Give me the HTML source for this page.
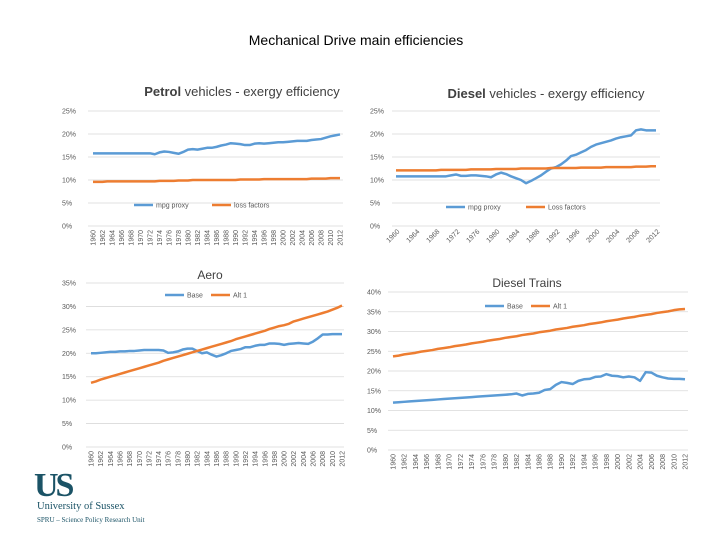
<!DOCTYPE html>
<html><head><meta charset="utf-8"><style>
body{margin:0;background:#fff;font-family:"Liberation Sans",sans-serif;}
svg text{font-family:"Liberation Sans",sans-serif;fill:#595959;}
</style></head><body>
<svg id="s" width="720" height="540" viewBox="0 0 720 540" xmlns="http://www.w3.org/2000/svg">
<text x="356" y="45" text-anchor="middle" font-size="14" style="fill:#000">Mechanical Drive main efficiencies</text>
<g>
<text x="34" y="496" font-size="34" style="fill:#1b5366;font-family:'Liberation Serif',serif;font-weight:bold;letter-spacing:-3px">US</text>
<text x="37" y="509" font-size="10.5" style="fill:#1b5366;font-family:'Liberation Serif',serif">University of Sussex</text>
<text x="37" y="522" font-size="7" style="fill:#1b5366;font-family:'Liberation Serif',serif">SPRU – Science Policy Research Unit</text>
</g>
</svg>
<script>
const years=[];for(let y=1960;y<=2012;y++)years.push(y);
const petrolMpg=[15.8,15.8,15.8,15.8,15.8,15.8,15.8,15.8,15.8,15.8,15.8,15.8,15.8,15.6,16.0,16.2,16.1,15.9,15.7,16.1,16.6,16.7,16.6,16.8,17.0,17.0,17.2,17.5,17.7,18.0,17.9,17.8,17.6,17.6,17.9,18.0,17.9,18.0,18.1,18.2,18.2,18.3,18.4,18.5,18.5,18.5,18.7,18.8,18.9,19.2,19.5,19.7,19.9];
const petrolLoss=[9.6,9.6,9.6,9.7,9.7,9.7,9.7,9.7,9.7,9.7,9.7,9.7,9.7,9.7,9.8,9.8,9.8,9.8,9.9,9.9,9.9,10.0,10.0,10.0,10.0,10.0,10.0,10.0,10.0,10.0,10.0,10.1,10.1,10.1,10.1,10.1,10.2,10.2,10.2,10.2,10.2,10.2,10.2,10.2,10.2,10.2,10.3,10.3,10.3,10.3,10.4,10.4,10.4];
const dieselMpg=[10.8,10.8,10.8,10.8,10.8,10.8,10.8,10.8,10.8,10.8,10.8,11.0,11.2,10.9,10.9,11.0,11.0,10.9,10.8,10.6,11.2,11.6,11.3,10.8,10.4,10.0,9.3,9.8,10.4,11.0,11.8,12.5,12.8,13.4,14.2,15.2,15.5,16.0,16.5,17.2,17.7,18.0,18.3,18.6,19.0,19.3,19.5,19.7,20.8,21.0,20.8,20.8,20.8];
const dieselLoss=[12.1,12.1,12.1,12.1,12.1,12.1,12.1,12.1,12.1,12.2,12.2,12.2,12.2,12.2,12.2,12.3,12.3,12.3,12.3,12.3,12.4,12.4,12.4,12.4,12.4,12.5,12.5,12.5,12.5,12.5,12.5,12.6,12.6,12.6,12.6,12.6,12.6,12.7,12.7,12.7,12.7,12.7,12.8,12.8,12.8,12.8,12.8,12.8,12.9,12.9,12.9,13.0,13.0];
const aeroBase=[20.0,20.0,20.1,20.2,20.3,20.3,20.4,20.4,20.5,20.5,20.6,20.7,20.7,20.7,20.7,20.6,20.1,20.2,20.4,20.8,21.0,21.0,20.5,20.0,20.2,19.7,19.3,19.6,20.0,20.5,20.7,20.9,21.3,21.3,21.6,21.8,21.8,22.1,22.1,22.0,21.8,22.0,22.1,22.2,22.1,22.0,22.5,23.2,24.0,24.0,24.1,24.1,24.1];
const aeroAlt1=[13.7,14.0,14.4,14.7,15.0,15.3,15.6,15.9,16.2,16.5,16.8,17.1,17.4,17.7,18.0,18.4,18.7,19.0,19.3,19.6,19.9,20.2,20.5,20.8,21.1,21.4,21.7,22.0,22.3,22.6,23.0,23.3,23.6,23.9,24.2,24.5,24.8,25.2,25.5,25.8,26.0,26.3,26.8,27.1,27.4,27.7,28.0,28.3,28.6,28.9,29.3,29.7,30.2];
const trainBase=[12.0,12.1,12.2,12.3,12.4,12.5,12.6,12.7,12.8,12.9,13.0,13.1,13.2,13.3,13.4,13.5,13.6,13.7,13.8,13.9,14.0,14.1,14.3,13.8,14.2,14.3,14.5,15.2,15.4,16.5,17.2,17.0,16.7,17.5,17.9,18.0,18.5,18.6,19.2,18.8,18.7,18.4,18.6,18.4,17.5,19.7,19.6,18.8,18.4,18.1,18.0,18.0,17.9];
const trainAlt1=[23.7,23.9,24.2,24.4,24.6,24.9,25.1,25.3,25.6,25.8,26.0,26.3,26.5,26.7,27.0,27.2,27.4,27.7,27.9,28.1,28.4,28.6,28.8,29.1,29.3,29.5,29.8,30.0,30.2,30.5,30.7,30.9,31.2,31.4,31.6,31.9,32.1,32.3,32.6,32.8,33.0,33.3,33.5,33.7,34.0,34.2,34.4,34.7,34.9,35.1,35.4,35.6,35.7];
const petrolTicks=[0,5,10,15,20,25],aeroTicks=[0,5,10,15,20,25,30,35],trainTicks=[0,5,10,15,20,25,30,35,40];
const NS="http://www.w3.org/2000/svg";const svg=document.getElementById('s');
function mk(t,a,p){const e=document.createElementNS(NS,t);for(const k in a)e.setAttribute(k,a[k]);(p||svg).appendChild(e);return e;}
function chart(c){
 const g=mk('g',{});
 
 
 const ys=v=>c.y0-(v/c.max)*(c.y0-c.y1);
 const xs=i=>c.x0+i*(c.x1-c.x0)/(years.length-1);
 c.ticks.forEach(t=>{
  const l=mk('line',{x1:c.gx0,x2:c.gx1,y1:ys(t),y2:ys(t),stroke:'#d9d9d9','stroke-width':0.8},g);
  
  
  const tx=mk('text',{x:c.lx,y:ys(t)+2.5,'font-size':7},g);tx.textContent=t+'%';
  
  
 });
 years.forEach((yr,i)=>{
  if(i%c.step)return;
  const x=xs(i);let tx;
  if(c.diag){tx=mk('text',{x:x+4,y:c.y0+6,'font-size':7,'text-anchor':'end',transform:`rotate(-45 ${x+4} ${c.y0+6})`},g);}
  else{tx=mk('text',{x:x+2.5,y:c.y0+4,'font-size':7,'text-anchor':'end',transform:`rotate(-90 ${x+2.5} ${c.y0+4})`},g);}
  tx.textContent=yr;
  
  
 });
 c.series.forEach(s=>{
  const p=mk('polyline',{points:s.d.map((v,i)=>xs(i)+','+ys(v)).join(' '),fill:'none',stroke:s.col,'stroke-width':2.5,'stroke-linejoin':'round'},g);
  
  
  const l=mk('line',{x1:s.lx,x2:s.lx+19,y1:c.legY,y2:c.legY,stroke:s.col,'stroke-width':2.5},g);
  
  
  const t=mk('text',{x:s.lx+22,y:c.legY+2.5,'font-size':7},g);t.textContent=s.label;
  
  
 });
 const T=mk('text',{x:c.tx,y:c.ty,'font-size':c.tfs,'text-anchor':'middle'},g);
 T.innerHTML=c.title;
 T.style.fill='#404040';
 
 
}
const B='#5b9bd5',O='#ed7d31';
chart({name:'petrol-chart',max:25,ticks:petrolTicks,x0:93,x1:340,y0:226,y1:111,gx0:88,gx1:343,lx:62,legY:205,tx:242,ty:96,tfs:13,step:2,title:'<tspan font-weight="bold">Petrol</tspan> vehicles - exergy efficiency',
 series:[{id:'petrol-mpg-proxy',d:petrolMpg,col:B,lx:134,label:'mpg proxy'},{id:'petrol-loss-factors',d:petrolLoss,col:O,lx:212,label:'loss factors'}]});
chart({name:'diesel-chart',max:25,ticks:petrolTicks,x0:396,x1:656,y0:226,y1:111,gx0:392,gx1:660,lx:370,legY:207,tx:546,ty:98,tfs:13,step:4,diag:true,title:'<tspan font-weight="bold">Diesel</tspan> vehicles - exergy efficiency',
 series:[{id:'diesel-mpg-proxy',d:dieselMpg,col:B,lx:446,label:'mpg proxy'},{id:'diesel-loss-factors',d:dieselLoss,col:O,lx:526,label:'Loss factors'}]});
chart({name:'aero-chart',max:35,ticks:aeroTicks,x0:91,x1:342,y0:447,y1:283,gx0:86,gx1:344,lx:62,legY:295,tx:210,ty:279,tfs:12,step:2,title:'Aero',
 series:[{id:'aero-base',d:aeroBase,col:B,lx:165,label:'Base'},{id:'aero-alt1',d:aeroAlt1,col:O,lx:211,label:'Alt 1'}]});
chart({name:'diesel-trains-chart',max:40,ticks:trainTicks,x0:393,x1:685,y0:450,y1:292,gx0:388,gx1:688,lx:367,legY:306,tx:527,ty:287,tfs:12,step:2,title:'Diesel Trains',
 series:[{id:'train-base',d:trainBase,col:B,lx:485,label:'Base'},{id:'train-alt1',d:trainAlt1,col:O,lx:531,label:'Alt 1'}]});
</script>
</body></html>
